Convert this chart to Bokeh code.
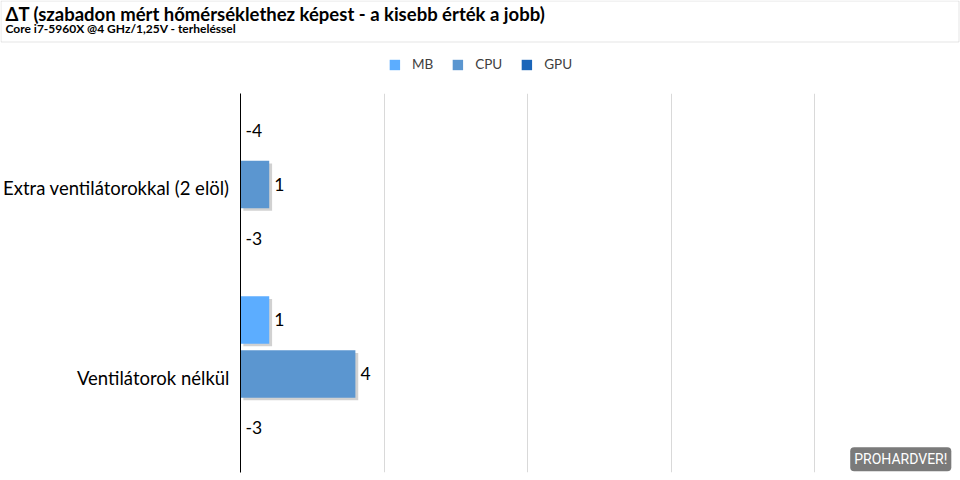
from bokeh.plotting import figure
from bokeh.models import ColumnDataSource, FactorRange, Range1d, Legend, LegendItem, Label, FixedTicker, BoxAnnotation
from bokeh.transform import dodge
from bokeh.core.properties import value
from bokeh.embed import file_html
from bokeh.resources import INLINE

# ---- data ----
categories = ["Extra ventilátorokkal (2 elöl)", "Ventilátorok nélkül"]
series = ["MB", "CPU", "GPU"]
mb_vals = [-4, 1]
cpu_vals = [1, 4]
gpu_vals = [-3, -3]
x_max = 25
grid_ticks = [0, 5, 10, 15, 20, 25]
title_text = "ΔT (szabadon mért hőmérséklethez képest - a kisebb érték a jobb)"
subtitle_text = "Core i7-5960X @4 GHz/1,25V - terheléssel"

colors = ["#5CADFF", "#5B96D0", "#1A65B9"]
offsets = [0.305, 0.02, -0.265]
FONT = "Lato"
W = 960
HH = 93          # header + legend strip height
BOX = 41         # title box height
H = 480 - HH     # chart height

# ---- header + legend strip ----
header = figure(width=W, height=HH, x_range=Range1d(0, W), y_range=Range1d(0, HH),
                output_backend="svg", toolbar_location=None, min_border=0)
header.axis.visible = False
header.grid.visible = False
header.outline_line_color = None
header.add_layout(BoxAnnotation(left=0.5, right=W - 1.5, bottom=HH - BOX - 0.5, top=HH - 0.5,
                                fill_alpha=0, line_color="#a6a6a6", line_width=1))
header.add_layout(Label(x=5, y=HH - 13, text=title_text, text_font=FONT, text_font_style="bold",
                        text_font_size="18.5px", text_color="#000000", text_baseline="middle"))
header.add_layout(Label(x=5, y=HH - 28, text=subtitle_text, text_font=FONT, text_font_style="bold",
                        text_font_size="12px", text_color="#000000", text_baseline="middle"))

leg_items = []
for name, col in zip(series, colors):
    proxy = header.hbar(y=[0], left=[0], right=[0], height=0, fill_color=col, line_color=None)
    leg_items.append(LegendItem(label=name, renderers=[proxy]))
legend = Legend(items=leg_items, orientation="horizontal", location="bottom_center",
                glyph_width=13, glyph_height=13, label_text_font=FONT, label_text_font_size="13.5px",
                label_text_color="#404040", spacing=18, label_standoff=11, padding=4, margin=21,
                border_line_color=None, background_fill_alpha=0)
header.add_layout(legend, "center")

# ---- main chart ----
p = figure(width=W, height=H, y_range=FactorRange(factors=categories[::-1]),
           x_range=Range1d(0, x_max), output_backend="svg", toolbar_location=None,
           min_border_left=237, min_border_right=2, min_border_bottom=8, min_border_top=0)
p.outline_line_color = None
p.ygrid.visible = False
p.xaxis.ticker = FixedTicker(ticks=grid_ticks)
p.xaxis.visible = False
p.xgrid.ticker = FixedTicker(ticks=grid_ticks)
p.xgrid.grid_line_color = "#d9d9d9"
p.yaxis.axis_line_color = "#000000"
p.yaxis.major_tick_line_color = None
p.yaxis.minor_tick_line_color = None
p.yaxis.major_label_text_font = FONT
p.yaxis.major_label_text_font_size = "18.5px"
p.yaxis.major_label_text_color = "#000000"
p.yaxis.major_label_standoff = 5

for name, vals, col, off in zip(series, [mb_vals, cpu_vals, gpu_vals], colors, offsets):
    src = ColumnDataSource(dict(cat=categories, val=vals,
                                lab_x=[max(v, 0) for v in vals],
                                lab=[str(v) for v in vals]))
    # soft drop shadow (only visible for bars inside the axis range)
    p.hbar(y=dodge("cat", off - 0.014, range=p.y_range), left=0.1, right=dodge("lab_x", 0.1),
           height=0.25, fill_color="#8c8c8c", fill_alpha=0.4, line_color=None, source=src)
    p.hbar(y=dodge("cat", off, range=p.y_range), left=0, right="val", height=0.25,
           fill_color=col, line_color=None, source=src)
    p.text(x="lab_x", y=dodge("cat", off, range=p.y_range), text="lab", source=src,
           x_offset=5, text_baseline="middle", text_font=value(FONT), text_font_size="17.5px",
           text_color="#000000")

p.add_layout(Label(x=x_max - 0.25, y=0.006, text="PROHARDVER!", text_align="right",
                   text_baseline="bottom", text_font="Roboto",
                   text_font_size="14px", text_color="#ffffff", background_fill_color="#7a7a7a",
                   padding=4, border_radius=4))

open("out.html", "w").write(file_html([header, p], INLINE))
